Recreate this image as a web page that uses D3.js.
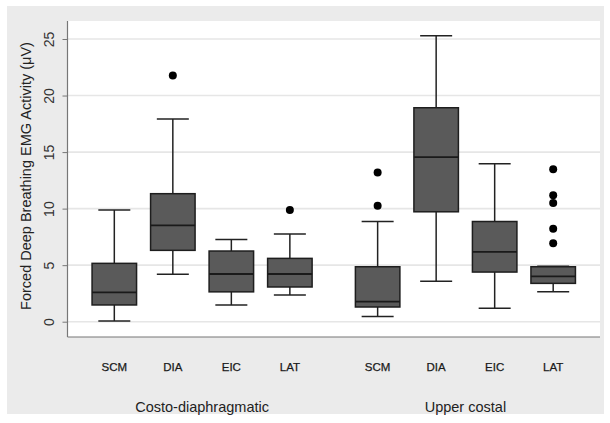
<!DOCTYPE html>
<html lang="en">
<head>
<meta charset="UTF-8">
<title>Forced Deep Breathing EMG Activity</title>
<script src="https://d3js.org/d3.v7.min.js"></script>
<style>
  body { margin: 0; background: #fff; }
  svg { display: block; font-family: "Liberation Sans", Arial, sans-serif; }
</style>
</head>
<body>
<svg width="610" height="423"></svg>
<script>
// values
const groups = ["Costo-diaphragmatic", "Upper costal"];
const muscles = ["SCM", "DIA", "EIC", "LAT"];
const yTicks = [0, 5, 10, 15, 20, 25];

// order: group 1 SCM, DIA, EIC, LAT, group 2 SCM, DIA, EIC, LAT
const whiskerLow  = [0.06, 4.19, 1.47, 2.36, 0.47, 3.58, 1.18, 2.65];
const q1          = [1.48, 6.31, 2.64, 3.07, 1.30, 9.72, 4.39, 3.39];
const median      = [2.60, 8.52, 4.22, 4.22, 1.77, 14.56, 6.18, 4.00];
const q3          = [5.16, 11.32, 6.25, 5.60, 4.86, 18.92, 8.86, 4.86];
const whiskerHigh = [9.88, 17.92, 7.28, 7.75, 8.86, 25.28, 13.96, 4.90];
const outliers    = [[], [21.78], [], [9.88], [13.2, 10.26], [], [], [13.48, 11.18, 10.5, 8.21, 6.93]];

const svg = d3.select("svg");
const plot = { left: 67.5, right: 600, top: 21, bottom: 337 };

const boxes = whiskerLow.map((d, i) => ({
  group: Math.floor(i / 4),
  muscle: muscles[i % 4],
  slot: Math.floor(i / 4) * 4.5 + (i % 4),
  lo: d, q1: q1[i], med: median[i], q3: q3[i], hi: whiskerHigh[i],
  out: outliers[i]
}));

const x = d3.scaleLinear().domain([-0.8, 8.3]).range([plot.left, plot.right]);
const y = d3.scaleLinear().domain([0, 25]).range([321.7, 39]);
const boxW = 44.5, capW = 32;

// backgrounds
svg.append("rect").attr("x", 7).attr("y", 6).attr("width", 597).attr("height", 408).attr("fill", "#ebebeb");
svg.append("rect").attr("x", plot.left).attr("y", plot.top)
  .attr("width", plot.right - plot.left).attr("height", plot.bottom - plot.top).attr("fill", "#fff");

// grid
svg.append("g").selectAll("line").data(yTicks).join("line")
  .attr("x1", plot.left).attr("x2", plot.right)
  .attr("y1", d => y(d)).attr("y2", d => y(d))
  .attr("stroke", "#e6e6e6").attr("stroke-width", 1.6);

// y axis
const yAxis = svg.append("g")
  .attr("transform", `translate(${plot.left},0)`)
  .call(d3.axisLeft(y).tickValues(yTicks).tickSize(5).tickPadding(0));
yAxis.select(".domain").attr("d", `M0,${plot.top}V${plot.bottom}`).attr("stroke", "#777").attr("stroke-width", 1.2);
yAxis.selectAll(".tick line").attr("stroke", "#777");
yAxis.selectAll(".tick text")
  .attr("transform", "rotate(-90)")
  .attr("x", 0).attr("y", -18)
  .attr("dy", "0.35em")
  .attr("text-anchor", "middle")
  .attr("font-size", 14)
  .attr("fill", "#333");

// x axis line
svg.append("line")
  .attr("x1", plot.left).attr("x2", plot.right)
  .attr("y1", plot.bottom).attr("y2", plot.bottom)
  .attr("stroke", "#777").attr("stroke-width", 1.2);

// boxes
const g = svg.append("g").selectAll("g").data(boxes).join("g");

g.append("line")
  .attr("x1", d => x(d.slot)).attr("x2", d => x(d.slot))
  .attr("y1", d => y(d.hi)).attr("y2", d => y(d.q3))
  .attr("stroke", "#222").attr("stroke-width", 1.5);
g.append("line")
  .attr("x1", d => x(d.slot)).attr("x2", d => x(d.slot))
  .attr("y1", d => y(d.q1)).attr("y2", d => y(d.lo))
  .attr("stroke", "#222").attr("stroke-width", 1.5);
g.append("line")
  .attr("x1", d => x(d.slot) - capW / 2).attr("x2", d => x(d.slot) + capW / 2)
  .attr("y1", d => y(d.hi)).attr("y2", d => y(d.hi))
  .attr("stroke", "#222").attr("stroke-width", 1.5);
g.append("line")
  .attr("x1", d => x(d.slot) - capW / 2).attr("x2", d => x(d.slot) + capW / 2)
  .attr("y1", d => y(d.lo)).attr("y2", d => y(d.lo))
  .attr("stroke", "#222").attr("stroke-width", 1.5);
g.append("rect")
  .attr("x", d => x(d.slot) - boxW / 2).attr("width", boxW)
  .attr("y", d => y(d.q3)).attr("height", d => y(d.q1) - y(d.q3))
  .attr("fill", "#5a5a5a").attr("stroke", "#1e1e1e").attr("stroke-width", 1.5);
g.append("line")
  .attr("x1", d => x(d.slot) - boxW / 2).attr("x2", d => x(d.slot) + boxW / 2)
  .attr("y1", d => y(d.med)).attr("y2", d => y(d.med))
  .attr("stroke", "#1a1a1a").attr("stroke-width", 1.8);
g.selectAll("circle").data(d => d.out.map(v => ({ slot: d.slot, v }))).join("circle")
  .attr("cx", d => x(d.slot)).attr("cy", d => y(d.v)).attr("r", 4)
  .attr("fill", "#000");

// category labels
svg.append("g").selectAll("text").data(boxes).join("text")
  .attr("x", d => x(d.slot)).attr("y", 367)
  .attr("dy", "0.35em")
  .attr("text-anchor", "middle")
  .attr("font-size", 11.5)
  .attr("fill", "#1a1a1a")
  .attr("stroke", "#1a1a1a").attr("stroke-width", 0.25)
  .text(d => d.muscle);

// group labels
svg.append("g").selectAll("text").data(groups).join("text")
  .attr("x", (d, i) => x(i * 4.5 + 1.5)).attr("y", 407)
  .attr("dy", "0.35em")
  .attr("text-anchor", "middle")
  .attr("font-size", 14.5)
  .attr("fill", "#222")
  .text(d => d);

// y title
svg.append("text")
  .attr("transform", "translate(26,176) rotate(-90)")
  .attr("dy", "0.35em")
  .attr("text-anchor", "middle")
  .attr("font-size", 14.5)
  .attr("fill", "#222")
  .text("Forced Deep Breathing EMG Activity (\u03bcV)");
</script>
</body>
</html>
